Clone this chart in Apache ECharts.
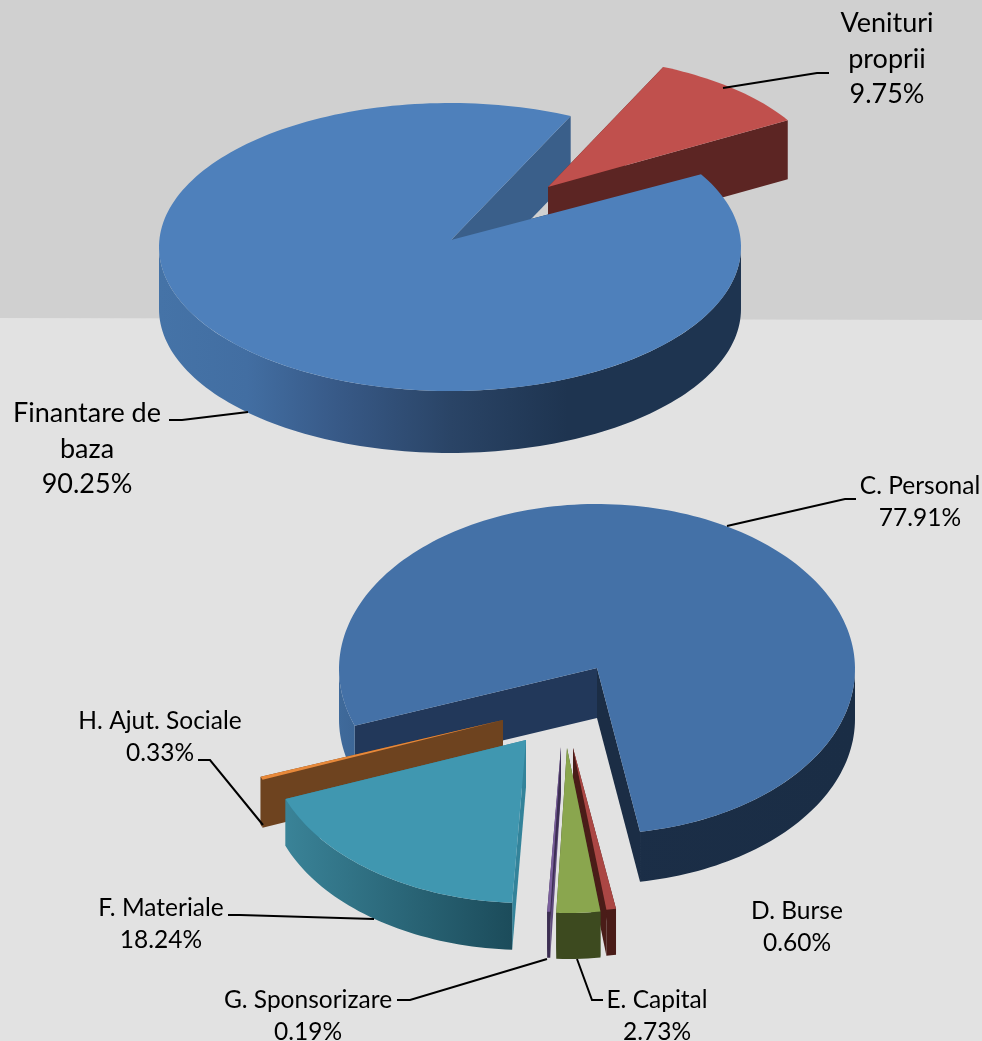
<!DOCTYPE html>
<html>
<head>
<meta charset="utf-8">
<title>Venituri si cheltuieli</title>
<script src="https://cdn.jsdelivr.net/npm/echarts@6/dist/echarts.min.js"></script>
<style>
    html, body { margin: 0; padding: 0; background: #e2e2e2; }
    #chart { width: 982px; height: 1041px; }
</style>
</head>
<body>
<div id="chart"></div>
<script>
// values, in clockwise order starting from each pie's first angle
const incomeNames = ['Venituri\nproprii', 'Finantare de\nbaza'];
const incomeValues = [9.75, 90.25];

const spendNames = ['D. Burse', 'E. Capital', 'G. Sponsorizare', 'F. Materiale', 'H. Ajut. Sociale', 'C. Personal'];
const spendValues = [0.60, 2.73, 0.19, 18.24, 0.33, 77.91];

// layout of each pie: cx/cy is the apex, offsets move a slice away from it
const incomePie = {
    startAngle: 24.5, cx: 451, cy: 240, fontSize: 27, lineHeight: 35.5,
    slices: [
        {
            dx: 97, dy: -53, rx: 278, ry: 132, depth: 59, sideZ: 2, topZ: 2,
            top: '#c0504d', start: '#5c2523', end: '#5c2523', wall: [[0, '#5c2523'], [1, '#5c2523']],
            label: [887, 59], leader: [[723, 88], [817, 73], [829, 73]]
        },
        {
            dx: 0, dy: 0, rx: 291, ry: 144, rimDx: -1, rimDy: 7, depth: 62, sideZ: 1, topZ: 3,
            top: '#4e80bb', start: '#1e3450', end: '#3a5f8a',
            wall: [[0, '#4573a7'], [0.15, '#426ea2'], [0.3, '#385a88'], [0.5, '#2a4466'], [0.7, '#1e3450'], [1, '#1e3450']],
            label: [87, 449], leader: [[248, 412], [182, 420], [169, 420]]
        }
    ]
};

const spendPie = {
    startAngle: 170.4, cx: 597, cy: 668, fontSize: 24.5, lineHeight: 32.5,
    slices: [
        {
            dx: -24, dy: 80, rx: 258, ry: 163, depth: 46, sideZ: 4, topZ: 4,
            top: '#ab4744', start: '#4a1c18', end: '#4a1c18', wall: [[0, '#4a1c18'], [1, '#4a1c18']],
            label: [797, 927]
        },
        {
            dx: -30, dy: 80, rx: 258, ry: 165, depth: 46, sideZ: 5, topZ: 5,
            top: '#8aa64e', start: '#3d4a1f', end: '#3d4a1f', wall: [[0, '#3d4a1f'], [1, '#3d4a1f']],
            label: [657, 1016], leader: [[577, 959], [592, 1000], [603, 1000]]
        },
        {
            dx: -36, dy: 79, rx: 258, ry: 165, depth: 46, sideZ: 6, topZ: 6,
            top: '#7a5f9c', start: '#5e4a7c', end: '#3c2e52', wall: [[0, '#3c2e52'], [1, '#3c2e52']],
            label: [308, 1016], leader: [[547, 959], [410, 1000], [397, 1000]]
        },
        {
            dx: -71, dy: 72, rx: 258, ry: 163, depth: 47, sideZ: 3, topZ: 3,
            top: '#4097b0', start: '#33839a', end: '#33839a',
            wall: [[0, '#3c879c'], [0.47, '#1c4c5b'], [1, '#1c4c5b']],
            label: [161, 924], leader: [[374, 919], [240, 915], [228, 915]]
        },
        {
            dx: -94, dy: 52, rx: 258, ry: 165, depth: 48, sideZ: 2, topZ: 2,
            top: '#e8893a', start: '#6e431f', end: '#6e431f', wall: [[0, '#6e431f'], [1, '#6e431f']],
            label: [160, 737], leader: [[263, 825], [210, 760], [198, 760]]
        },
        {
            dx: 0, dy: 0, rx: 258, ry: 165, rimDy: 1, depth: 50, sideZ: 1, topZ: 1,
            top: '#4471a7', start: '#22385a', end: '#1b2d45',
            wall: [[0, '#3f6a9b'], [0.5, '#1b2e47'], [1, '#1a2d45']],
            label: [920, 502], leader: [[727, 526], [845, 499], [856, 499]]
        }
    ]
};

const rad = d => d * Math.PI / 180;

// clockwise angles in degrees, 0 at the top
function sliceAngles(values, startAngle) {
    const total = values.reduce((s, v) => s + v, 0);
    let a = startAngle;
    return values.map(v => {
        const t0 = a;
        a += v / total * 360;
        return [t0, a];
    });
}

function arcPoints(geo, t0, t1, shiftY) {
    const n = Math.max(2, Math.ceil((t1 - t0) / 1.5));
    const pts = [];
    for (let i = 0; i <= n; i++) {
        const t = rad(t0 + (t1 - t0) * i / n);
        pts.push([geo.rimX + geo.rx * Math.sin(t), geo.rimY - geo.ry * Math.cos(t) + shiftY]);
    }
    return pts;
}

function polygon(points, fill, z2) {
    return { type: 'polygon', silent: true, z2, shape: { points }, style: { fill } };
}

function percent(v) {
    return v.toFixed(2) + '%';
}

function pieSeries(pie, names, values) {
    const angles = sliceAngles(values, pie.startAngle);
    return {
        type: 'custom',
        coordinateSystem: 'none',
        silent: true,
        animation: false,
        data: values.map(v => [v]),
        renderItem: (params) => {
            const i = params.dataIndex;
            const s = pie.slices[i];
            const [t0, t1] = angles[i];
            const ax = pie.cx + s.dx;
            const ay = pie.cy + s.dy;
            const geo = { rimX: ax + (s.rimDx || 0), rimY: ay + (s.rimDy || 0), rx: s.rx, ry: s.ry };
            const d = s.depth;
            const sideZ = s.sideZ * 10;
            const children = [];

            // the two cut faces, the top face hides them when they look away
            const p0 = arcPoints(geo, t0, t0, 0)[0];
            const p1 = arcPoints(geo, t1, t1, 0)[0];
            children.push(polygon([[ax, ay], p0, [p0[0], p0[1] + d], [ax, ay + d]], s.start, sideZ));
            children.push(polygon([[ax, ay], p1, [p1[0], p1[1] + d], [ax, ay + d]], s.end, sideZ + 1));

            // outer wall, only the part between 90 and 270 degrees faces the viewer
            for (const k of [0, 360]) {
                const w0 = Math.max(t0, 90 + k);
                const w1 = Math.min(t1, 270 + k);
                if (w1 <= w0) continue;
                const upper = arcPoints(geo, w0, w1, 0);
                const lower = arcPoints(geo, w0, w1, d).reverse();
                const fill = new echarts.graphic.LinearGradient(
                    ax - s.rx, 0, ax + s.rx, 0,
                    s.wall.map(c => ({ offset: c[0], color: c[1] })),
                    true
                );
                children.push(polygon(upper.concat(lower), fill, sideZ + 2));
            }

            // top face
            children.push(polygon([[ax, ay]].concat(arcPoints(geo, t0, t1, 0)), s.top, s.topZ * 10 + 5));

            if (s.leader) {
                children.push({
                    type: 'polyline', silent: true, z2: 100,
                    shape: { points: s.leader },
                    style: { stroke: '#000', lineWidth: 2, fill: null }
                });
            }
            children.push({
                type: 'text', silent: true, z2: 101,
                style: {
                    text: names[i] + '\n' + percent(values[i]),
                    x: s.label[0], y: s.label[1],
                    align: 'center', verticalAlign: 'middle',
                    fill: '#000',
                    font: pie.fontSize + 'px Lato',
                    lineHeight: pie.lineHeight
                }
            });
            return { type: 'group', children };
        }
    };
}

const chart = echarts.init(document.getElementById('chart'), null, { renderer: 'canvas' });
chart.setOption({
    animation: false,
    backgroundColor: '#e2e2e2',
    graphic: [{
        type: 'polygon',
        silent: true,
        z: -1,
        shape: { points: [[0, 0], [982, 0], [982, 320], [0, 318]] },
        style: { fill: '#d0d0d0' }
    }],
    series: [
        pieSeries(incomePie, incomeNames, incomeValues),
        pieSeries(spendPie, spendNames, spendValues)
    ]
});
</script>
</body>
</html>
